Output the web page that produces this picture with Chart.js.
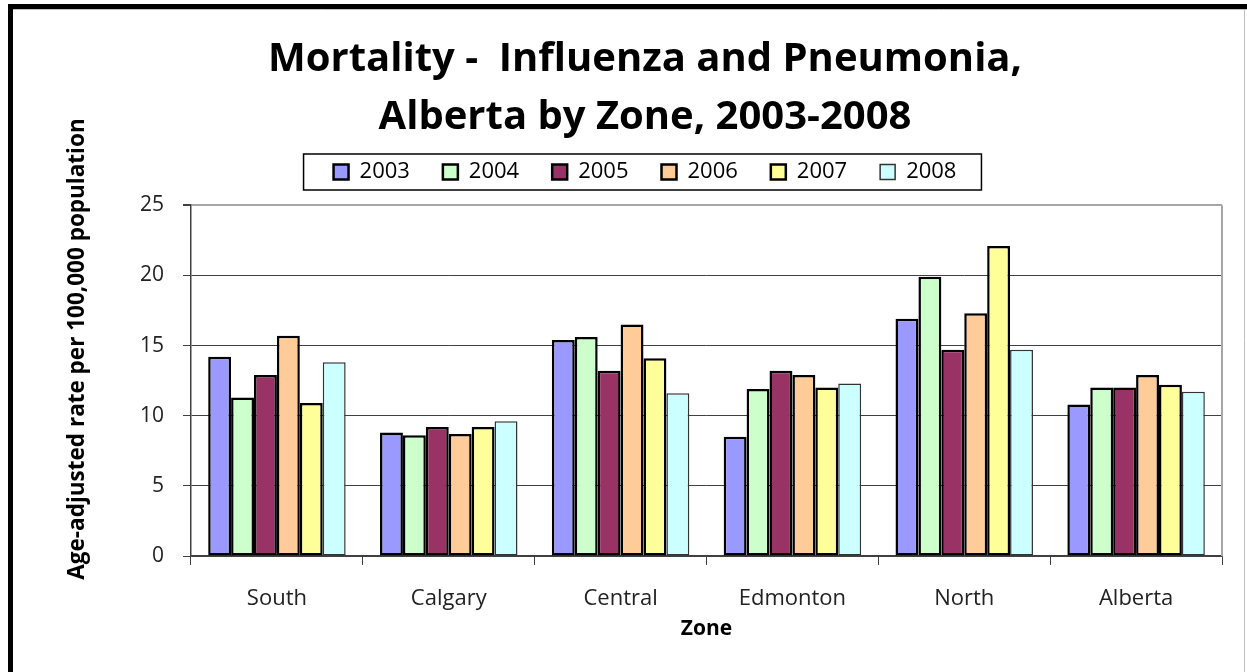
<!DOCTYPE html>
<html>
<head>
<meta charset="utf-8">
<title>Mortality - Influenza and Pneumonia</title>
<script src="https://cdn.jsdelivr.net/npm/chart.js@4"></script>
<style>
  html, body { margin: 0; padding: 0; background: #fff; }
  canvas { display: block; }
</style>
</head>
<body>
<canvas id="chart1" width="1247" height="672"></canvas>
<script>
// zones along the x axis
const zones = ['South', 'Calgary', 'Central', 'Edmonton', 'North', 'Alberta'];
const years = ['2003', '2004', '2005', '2006', '2007', '2008'];

// age-adjusted rate per 100,000, one array per year
const rate2003 = [14.2, 8.8, 15.4, 8.5, 16.9, 10.8];
const rate2004 = [11.3, 8.6, 15.6, 11.9, 19.9, 12.0];
const rate2005 = [12.9, 9.2, 13.2, 13.2, 14.7, 12.0];
const rate2006 = [15.7, 8.7, 16.5, 12.9, 17.3, 12.9];
const rate2007 = [10.9, 9.2, 14.1, 12.0, 22.1, 12.2];
const rate2008 = [13.8, 9.6, 11.6, 12.3, 14.7, 11.7];

const yTicks = [0, 5, 10, 15, 20, 25];

const colors = ['#9999ff', '#ccffcc', '#993366', '#ffcc99', '#ffff99', '#ccffff'];
const series = [rate2003, rate2004, rate2005, rate2006, rate2007, rate2008];

Chart.defaults.font.family = "'Open Sans', sans-serif";
Chart.defaults.color = '#000';

// white background, boxed legend, plot border, outer frame and the y title
const framePlugin = {
    id: 'frame',
    beforeDraw(chart) {
        const ctx = chart.ctx;
        ctx.save();
        ctx.fillStyle = '#fff';
        ctx.fillRect(0, 0, chart.width, chart.height);
        ctx.restore();
    },
    afterDraw(chart) {
        const ctx = chart.ctx;
        const area = chart.chartArea;
        ctx.save();

        // right edge of the plot
        ctx.strokeStyle = '#a6a6a6';
        ctx.lineWidth = 2;
        ctx.beginPath();
        ctx.moveTo(area.right, area.top);
        ctx.lineTo(area.right, area.bottom);
        ctx.stroke();

        // box round the legend
        const boxes = chart.legend.legendHitBoxes;
        if (boxes && boxes.length) {
            const first = boxes[0];
            const last = boxes[boxes.length - 1];
            const x0 = first.left - 30;
            const x1 = last.left + last.width + 25;
            const y0 = first.top - 7;
            const y1 = first.top + first.height + 7;
            ctx.strokeStyle = '#000';
            ctx.lineWidth = 1.5;
            ctx.strokeRect(x0, y0, x1 - x0, y1 - y0);
        }

        // y axis title, centred a little above the plot middle like the original
        ctx.translate(78, 349);
        ctx.rotate(-Math.PI / 2);
        ctx.font = "bold 22.5px 'Open Sans', sans-serif";
        ctx.fillStyle = '#000';
        ctx.textAlign = 'center';
        ctx.textBaseline = 'middle';
        ctx.fillText('Age-adjusted rate per 100,000 population', 0, 0);
        ctx.setTransform(1, 0, 0, 1, 0, 0);

        // outer frame
        ctx.fillStyle = '#000';
        ctx.fillRect(8, 4, chart.width - 8, 5);
        ctx.fillRect(8, 4, 5, chart.height - 4);
        ctx.strokeStyle = '#c0c0c0';
        ctx.lineWidth = 1;
        ctx.beginPath();
        ctx.moveTo(13, 9.5);
        ctx.lineTo(chart.width, 9.5);
        ctx.moveTo(1244.5, 9);
        ctx.lineTo(1244.5, chart.height);
        ctx.stroke();

        ctx.restore();
    }
};

const ctx = document.getElementById('chart1').getContext('2d');
new Chart(ctx, {
    type: 'bar',
    data: {
        labels: zones,
        datasets: years.map((year, i) => ({
            label: year,
            data: series[i],
            backgroundColor: colors[i],
            borderColor: i === 5 ? '#333' : '#000',
            borderWidth: i === 5 ? 1.5 : 2.5,
            borderSkipped: false,
            categoryPercentage: 0.8,
            barPercentage: 1.0
        }))
    },
    options: {
        responsive: false,
        animation: false,
        layout: {
            padding: { left: 68, right: 25, top: 0, bottom: 0 }
        },
        scales: {
            x: {
                grid: {
                    drawOnChartArea: false,
                    tickLength: 9,
                    color: '#404040'
                },
                border: { color: '#404040', width: 1.5 },
                ticks: {
                    font: { size: 22 },
                    color: '#222',
                    padding: 21
                },
                title: {
                    display: true,
                    text: 'Zone',
                    font: { size: 21, weight: 'bold' },
                    color: '#000',
                    padding: { top: 0, bottom: 30 }
                },
                afterFit(scale) {
                    scale.height = 116;
                }
            },
            y: {
                min: 0,
                max: 25,
                afterBuildTicks(scale) {
                    scale.ticks = yTicks.map(v => ({ value: v }));
                },
                grid: {
                    color: c => (c.tick && c.tick.value === 25 ? '#a6a6a6' : '#404040'),
                    lineWidth: c => (c.tick && c.tick.value === 25 ? 2 : 1),
                    tickColor: '#404040',
                    tickLength: 8
                },
                border: { color: '#404040', width: 1.5 },
                ticks: {
                    font: { size: 21 },
                    color: '#222',
                    padding: 19
                },
                afterFit(scale) {
                    scale.width = 123;
                }
            }
        },
        plugins: {
            title: {
                display: true,
                text: ['Mortality -  Influenza and Pneumonia,', 'Alberta by Zone, 2003-2008'],
                font: { size: 40, weight: 'bold', lineHeight: 1.45 },
                color: '#000',
                padding: { top: 31, bottom: -19 }
            },
            subtitle: {
                // empty spacer between the legend and the plot
                display: true,
                text: '',
                weight: 500,
                font: { size: 1 },
                padding: { top: 11, bottom: 0 }
            },
            legend: {
                position: 'top',
                labels: {
                    boxWidth: 15,
                    boxHeight: 15,
                    padding: 33,
                    font: { size: 22 },
                    color: '#000'
                }
            },
            tooltip: { enabled: false }
        }
    },
    plugins: [framePlugin]
});
</script>
</body>
</html>
